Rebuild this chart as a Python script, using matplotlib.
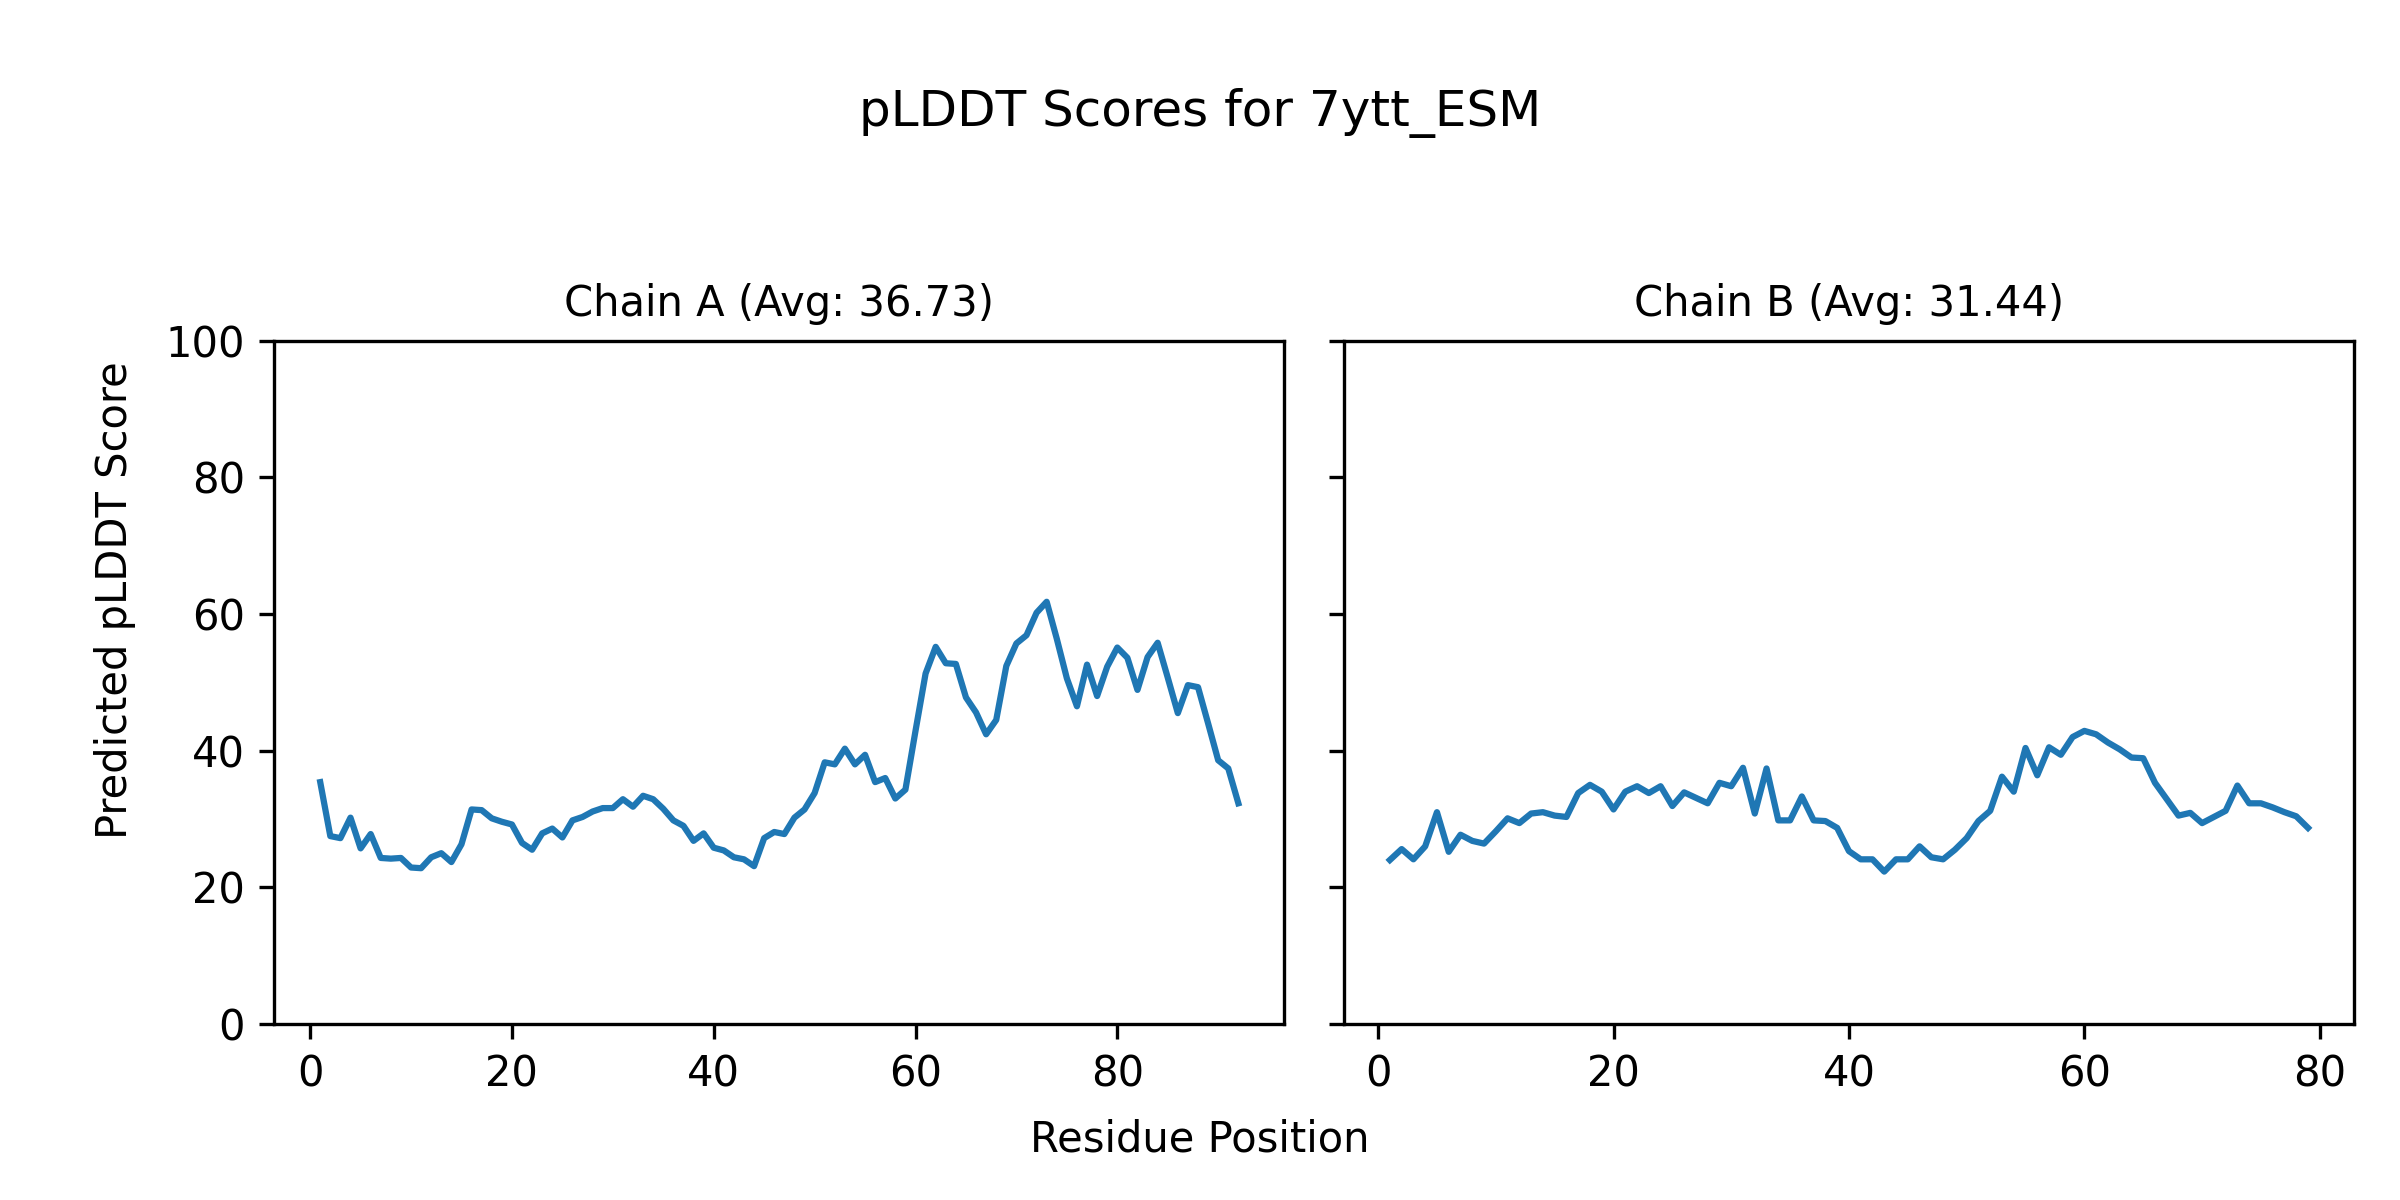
import matplotlib
matplotlib.use("Agg")
import matplotlib.pyplot as plt
import numpy as np

title = "pLDDT Scores for 7ytt_ESM"
xlabel = "Residue Position"
ylabel = "Predicted pLDDT Score"

chain_a_title = "Chain A (Avg: 36.73)"
chain_a_scores = [
    35.4, 27.5, 27.2, 30.2, 25.7, 27.8, 24.3, 24.2, 24.3, 22.9,
    22.8, 24.4, 25.0, 23.7, 26.3, 31.4, 31.3, 30.1, 29.6, 29.2,
    26.5, 25.5, 27.9, 28.6, 27.3, 29.8, 30.3, 31.1, 31.6, 31.6,
    32.9, 31.8, 33.4, 32.9, 31.5, 29.8, 29.0, 26.8, 27.9, 25.8,
    25.4, 24.4, 24.1, 23.1, 27.2, 28.1, 27.8, 30.2, 31.4, 33.8,
    38.3, 38.0, 40.3, 38.0, 39.4, 35.4, 36.0, 33.0, 34.3, 42.9,
    51.3, 55.2, 52.8, 52.7, 47.8, 45.6, 42.4, 44.5, 52.4, 55.7,
    56.9, 60.2, 61.8, 56.4, 50.6, 46.5, 52.6, 48.0, 52.3, 55.1,
    53.6, 48.9, 53.7, 55.8, 50.7, 45.5, 49.6, 49.3, 44.0, 38.6,
    37.4, 32.3,
]

chain_b_title = "Chain B (Avg: 31.44)"
chain_b_scores = [
    24.0, 25.6, 24.1, 26.0, 31.0, 25.2, 27.7, 26.8, 26.4, 28.2,
    30.1, 29.4, 30.8, 31.0, 30.5, 30.3, 33.8, 35.0, 34.0, 31.4,
    34.0, 34.8, 33.8, 34.8, 31.9, 33.9, 33.1, 32.3, 35.3, 34.8,
    37.5, 30.8, 37.4, 29.8, 29.8, 33.3, 29.8, 29.7, 28.7, 25.3,
    24.1, 24.1, 22.3, 24.1, 24.1, 26.0, 24.4, 24.1, 25.5, 27.2,
    29.7, 31.2, 36.2, 34.0, 40.4, 36.4, 40.5, 39.4, 42.0, 42.9,
    42.4, 41.2, 40.2, 39.0, 38.9, 35.3, 32.9, 30.5, 30.9, 29.4,
    30.3, 31.2, 34.9, 32.3, 32.3, 31.7, 31.0, 30.4, 28.7,
]

y_ticks = [0, 20, 40, 60, 80, 100]

fig, axes = plt.subplots(1, 2, figsize=(8, 4), dpi=300, sharey=True)
fig.subplots_adjust(left=0.1143, right=0.9808, bottom=0.1467, top=0.716, wspace=0.0591)

for ax, t, scores in zip(axes, [chain_a_title, chain_b_title], [chain_a_scores, chain_b_scores]):
    pos = np.arange(1, len(scores) + 1)
    ax.plot(pos, scores, color="#1f77b4", linewidth=1.5)
    ax.set_title(t, fontsize=10)
    ax.set_ylim(0, 100)
    ax.set_yticks(y_ticks)

fig.suptitle(title, fontsize=12, y=0.927)
fig.text(0.5, 0.0408, xlabel, ha="center", va="baseline", fontsize=10)
fig.text(0.048, 0.5, ylabel, ha="center", va="center", rotation=90, fontsize=10)

fig.savefig("out.png", dpi=300)
